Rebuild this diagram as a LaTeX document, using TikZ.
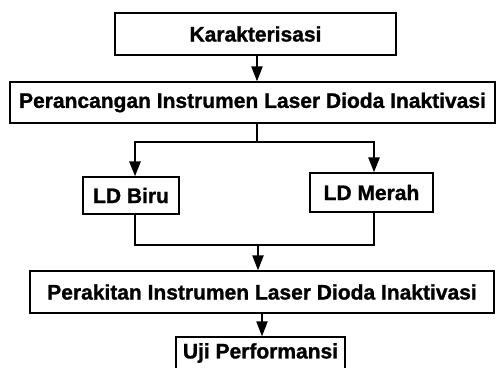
\documentclass[tikz,border=0pt]{standalone}
\usepackage{fontspec}
\setmainfont{Liberation Sans}[BoldFeatures={FakeBold=1.2}]
\usetikzlibrary{arrows.meta,positioning,calc}

\begin{document}
\begin{tikzpicture}[x=1pt,y=-1pt,>={Triangle[length=15pt,width=11pt]},
  stage/.style={rectangle,draw,line width=1.2pt,inner sep=0pt,font=\fontsize{21}{24}\selectfont\bfseries},
  link/.style={line width=2pt},
  bus/.style={line width=2.6pt}]
\useasboundingbox (0,0) rectangle (497,367);
\node[stage,minimum width=281pt,minimum height=42pt] (K) at (255.5,34) {Karakterisasi};
\node[stage,minimum width=485pt,minimum height=41pt] (P) at (252.5,102.5) {Perancangan Instrumen Laser Dioda Inaktivasi};
\node[stage,minimum width=96pt,minimum height=37pt] (LB) at (131,195.5) {LD Biru};
\node[stage,minimum width=123pt,minimum height=39pt] (LM) at (371.5,192.5) {LD Merah};
\node[stage,minimum width=464pt,minimum height=42pt] (R) at (262,292) {Perakitan Instrumen Laser Dioda Inaktivasi};
\node[stage,minimum width=169pt,minimum height=32pt] (U) at (260.5,353) {Uji Performansi};
\coordinate (split) at (257,142);
\coordinate (merge) at (258,245);
% arrows between stages
\draw[->,link] ([xshift=1.5pt]K.south) -- ([xshift=1.5pt]K.south |- P.north);
\draw[line width=1.5pt] (P.south -| split) -- (split);
\draw[->,bus] (split) -| ([xshift=4pt]LB.north);
\draw[->,bus] (split) -| ([xshift=2.5pt]LM.north);
\draw[bus] ([xshift=4pt]LB.south) |- (merge) -| ([xshift=2.5pt]LM.south);
\draw[->,link] (merge) -- (merge |- R.north);
\draw[->,link] (R.south) -- (R.south |- U.north);
\end{tikzpicture}
\end{document}
